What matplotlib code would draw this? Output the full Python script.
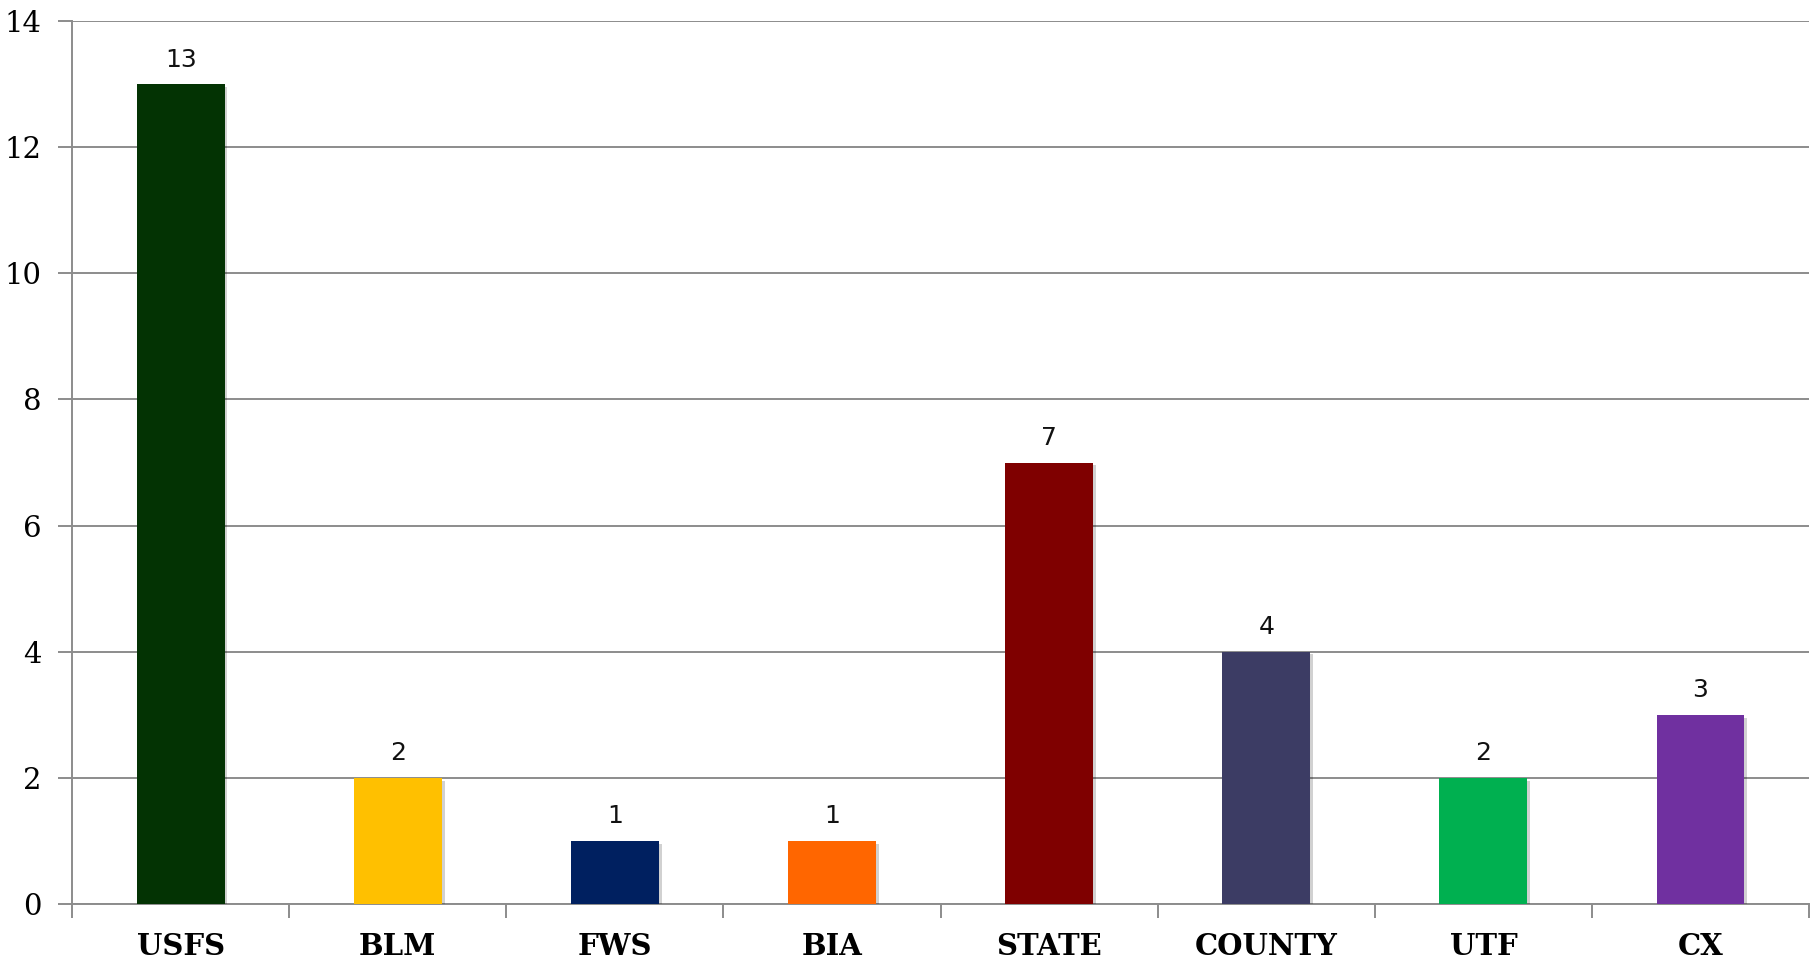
import numpy as np
import matplotlib
matplotlib.use("Agg")
import matplotlib.pyplot as plt
import matplotlib.patheffects as pe

agencies = ["USFS", "BLM", "FWS", "BIA", "STATE", "COUNTY", "UTF", "CX"]
counts = [13, 2, 1, 1, 7, 4, 2, 3]
colors = ["#033303", "#FFC000", "#002060", "#FF6600", "#7F0000", "#3C3C64", "#00B050", "#7030A0"]

fig = plt.figure(figsize=(18.2, 9.59), dpi=100)
ax = fig.add_axes([0.0396, 0.0574, 0.9544, 0.9206])

x = np.arange(len(agencies))
bars = ax.bar(x, counts, width=0.405, color=colors, zorder=3)
for b in bars:
    b.set_path_effects([pe.SimplePatchShadow(offset=(2, -2), shadow_rgbFace="#000000", alpha=0.18), pe.Normal()])

for xi, v in zip(x, counts):
    ax.annotate(str(v), (xi, v), xytext=(0, 9), textcoords="offset points",
                ha="center", va="bottom", fontsize=18, family="DejaVu Sans", color="#111111")

ax.set_xlim(-0.5, len(agencies) - 0.5)
ax.set_ylim(0, 14)
ax.set_yticks(range(0, 15, 2))
ax.yaxis.grid(True, color="#8c8c8c", linewidth=1.4, zorder=0)
ax.set_axisbelow(True)

ax.set_xticks(x)
ax.set_xticklabels(agencies, fontsize=21, fontweight="bold", family="DejaVu Serif")
ax.set_xticks(np.arange(-0.5, len(agencies)), minor=True)
ax.tick_params(axis="x", which="major", length=0, pad=20)
ax.tick_params(axis="x", which="minor", length=10, width=1.4, color="#8c8c8c")
ax.tick_params(axis="y", length=10, width=1.4, color="#8c8c8c", pad=12, labelsize=21)
for lab in ax.get_yticklabels():
    lab.set_family("DejaVu Serif")

for s in ["top", "right"]:
    ax.spines[s].set_visible(False)
for s in ["left", "bottom"]:
    ax.spines[s].set_color("#8c8c8c")
    ax.spines[s].set_linewidth(1.4)

fig.savefig("out.png", dpi=100)
